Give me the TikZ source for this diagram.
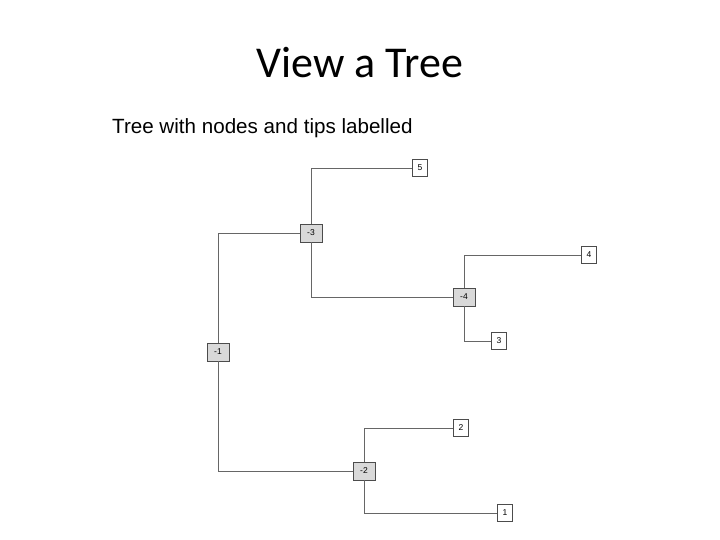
\documentclass[tikz,border=0pt]{standalone}
\usepackage{fontspec}
\setmainfont{Liberation Sans}
\newfontfamily\titlefont{Carlito}
\usepackage{tikz}

\tikzset{
  intnode/.style={draw=black!70, fill=black!15, line width=0.6pt,
    minimum width=22pt, minimum height=18pt, inner sep=0pt, font=\fontsize{8.5}{9}\selectfont},
  tipnode/.style={draw=black!70, fill=white, line width=0.6pt,
    minimum width=15pt, minimum height=17pt, inner sep=0pt, font=\fontsize{8.5}{9}\selectfont},
  branch/.style={draw=black!60, line width=0.8pt}
}

\begin{document}
\begin{tikzpicture}[x=1pt, y=-1pt]
  \useasboundingbox (0,0) rectangle (720,540);
  %% headings
  \node[anchor=base, font=\titlefont\fontsize{44}{50}\selectfont] (title) at (360,78) {View a Tree};
  \node[anchor=base west, inner sep=0pt, font=\fontsize{20.6}{24}\selectfont] (sub) at (112,134) {Tree with nodes and tips labelled};
  %% internal nodes
  \node[intnode] (m1) at (218,352) {-1};
  \node[intnode] (m3) at (311,233) {-3};
  \node[intnode] (m4) at (464,297) {-4};
  \node[intnode] (m2) at (364,471) {-2};
  %% tips
  \node[tipnode] (t5) at (420,168) {5};
  \node[tipnode] (t4) at (589,255) {4};
  \node[tipnode] (t3) at (499,341) {3};
  \node[tipnode] (t2) at (461,428) {2};
  \node[tipnode] (t1) at (505,513) {1};
  %% branches
  \draw[branch] (m1.north) |- (m3.west);
  \draw[branch] (m1.south) |- (m2.west);
  \draw[branch] (m3.north) |- (t5.west);
  \draw[branch] (m3.south) |- (m4.west);
  \draw[branch] (m4.north) |- (t4.west);
  \draw[branch] (m4.south) |- (t3.west);
  \draw[branch] (m2.north) |- (t2.west);
  \draw[branch] (m2.south) |- (t1.west);
\end{tikzpicture}
\end{document}
